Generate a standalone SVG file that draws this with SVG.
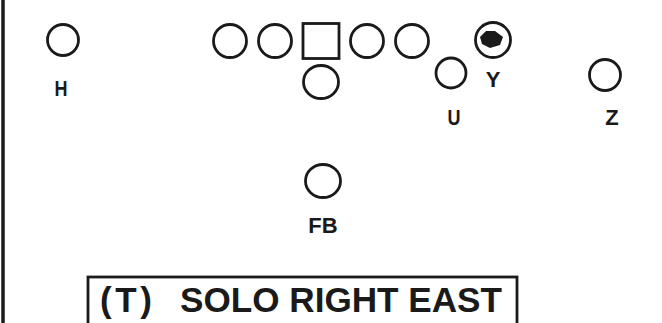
<svg xmlns="http://www.w3.org/2000/svg" width="662" height="323" viewBox="0 0 662 323">
<style>
.p{fill:none;stroke:#1a1a1a;stroke-width:2.8}
.lb{font-family:"Liberation Sans",Arial,sans-serif;font-weight:bold;font-size:22px;fill:#1a1a1a;text-anchor:middle}
.tt{font-family:"Liberation Sans",Arial,sans-serif;font-weight:bold;font-size:35px;fill:#1a1a1a}
</style>
<rect width="662" height="323" fill="#ffffff"/>
<line x1="3" y1="0" x2="3" y2="323" stroke="#1a1a1a" stroke-width="3.5"/>
<g id="X"><circle class="p" cx="63" cy="40" r="15.5"/><text class="lb" x="61" y="96" textLength="13" lengthAdjust="spacingAndGlyphs">H</text></g>
<g id="LT"><circle class="p" cx="230" cy="41" r="16.5"/></g>
<g id="LG"><circle class="p" cx="275" cy="41" r="16.5"/></g>
<g id="C"><rect class="p" x="303" y="23.5" width="36" height="35"/></g>
<g id="RG"><circle class="p" cx="367" cy="41" r="16.5"/></g>
<g id="RT"><circle class="p" cx="412" cy="41" r="16.5"/></g>
<g id="QB"><ellipse class="p" cx="321" cy="82" rx="17.5" ry="16.5"/></g>
<g id="Y"><circle class="p" cx="493" cy="40" r="17.5" stroke-width="3.6"/><path d="M480 37 L486 31 L495 31 L503 37 L500 45 L490 48 L482 44 Z" fill="#1a1a1a"/><text class="lb" x="493" y="87">Y</text></g>
<g id="U"><ellipse class="p" cx="451" cy="73" rx="15" ry="15"/><text class="lb" x="454" y="125" textLength="13" lengthAdjust="spacingAndGlyphs">U</text></g>
<g id="Z"><circle class="p" cx="605" cy="75" r="15.5"/><text class="lb" x="612" y="125">Z</text></g>
<g id="FB"><ellipse class="p" cx="323" cy="181" rx="17.5" ry="16.5"/><text class="lb" x="323" y="233">FB</text></g>
<g id="connectors"></g>
<g id="title"><rect class="p" x="88" y="277" width="429" height="60"/><text class="tt" x="100" y="312" textLength="52" lengthAdjust="spacing">(T)</text><text class="tt" x="180" y="312" textLength="322" lengthAdjust="spacingAndGlyphs">SOLO RIGHT EAST</text></g>
</svg>
